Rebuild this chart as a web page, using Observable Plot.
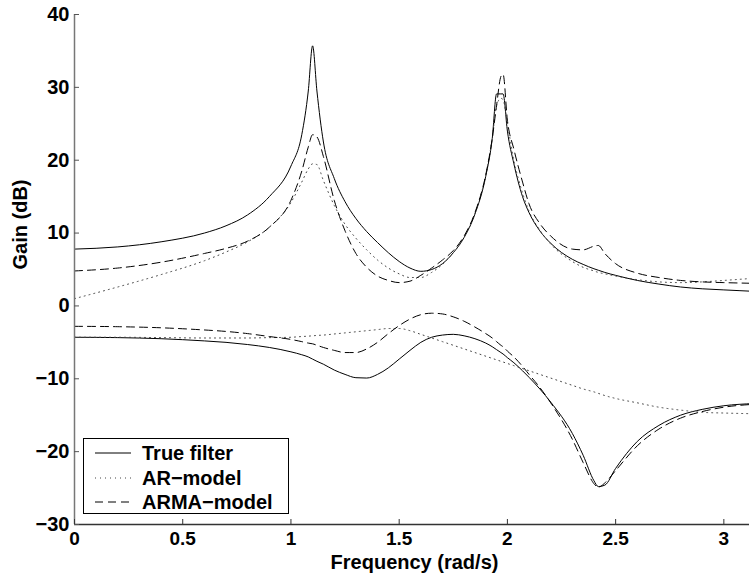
<!DOCTYPE html>
<html><head><meta charset="utf-8">
<script src="https://cdn.jsdelivr.net/npm/d3@7"></script>
<script src="https://cdn.jsdelivr.net/npm/@observablehq/plot@0.6"></script>
<style>
body{margin:0;background:#fff;}
#wrap{position:relative;width:749px;height:576px;overflow:hidden;background:#fff;}
#legend{position:absolute;left:83px;top:438px;width:206px;height:76px;box-sizing:border-box;border:1.5px solid #000;background:#fff;font:bold 20px "Liberation Sans",Arial,sans-serif;color:#000;}
.row{position:absolute;left:0;height:24px;width:200px;}
.row svg{position:absolute;left:10px;top:0;}
.row span{position:absolute;left:58px;top:0;line-height:24px;white-space:nowrap;}
</style></head><body><div id="wrap"></div>
<script>
const freq = [0, 0.2, 0.4, 0.6, 0.7, 0.8, 0.9, 1.0, 1.05, 1.08, 1.1, 1.12, 1.15, 1.2, 1.25, 1.3, 1.35, 1.4, 1.45, 1.5, 1.55, 1.6, 1.65, 1.7, 1.75, 1.8, 1.85, 1.9, 1.93, 1.95, 1.97, 1.98, 2.0, 2.03, 2.07, 2.1, 2.15, 2.2, 2.3, 2.35, 2.4, 2.42, 2.45, 2.5, 2.6, 2.7, 2.8, 2.9, 3.0, 3.14];

const trueUpper = [7.8, 8.1, 8.8, 10.0, 11.0, 12.5, 15.0, 19.2, 23.5, 29.5, 35.7, 29.5, 22.5, 17.5, 14.3, 12.0, 10.2, 8.7, 7.3, 6.1, 5.2, 4.75, 5.0, 5.8, 7.3, 9.4, 12.6, 17.8, 23, 29.1, 29.1, 29.1, 24, 19.5, 15, 12.8, 10.3, 8.6, 6.4, 5.7, 5.1, 4.9, 4.6, 4.2, 3.5, 3.0, 2.6, 2.35, 2.2, 2.0];
const armaUpper = [4.8, 5.2, 6.0, 7.2, 7.9, 8.9, 10.8, 14.5, 18.5, 21.8, 23.5, 23.2, 20.5, 14.5, 10.3, 7.2, 5.3, 4.1, 3.5, 3.2, 3.4, 4.2, 5.2, 6.3, 7.6, 9.6, 12.8, 18.0, 23.0, 27.5, 31.5, 31.8, 25.5, 21.5, 17.0, 14.0, 11.3, 9.6, 7.8, 7.7, 8.2, 8.3, 7.2, 5.8, 4.5, 3.9, 3.5, 3.3, 3.2, 3.1];
const arUpper = [1.0, 2.6, 4.3, 6.2, 7.4, 8.8, 10.8, 14.2, 17.0, 18.8, 19.5, 19.4, 17.2, 13.8, 11.2, 9.3, 7.7, 6.3, 5.2, 4.4, 3.9, 3.9, 4.6, 5.7, 7.3, 9.4, 12.7, 18.0, 23, 27.5, 28.5, 28.3, 25.0, 20.0, 15.5, 13.0, 10.4, 8.5, 6.1, 5.3, 4.8, 4.6, 4.4, 4.1, 3.6, 3.3, 3.2, 3.3, 3.5, 3.8];

const trueLower = [-4.3, -4.35, -4.5, -4.8, -5.0, -5.3, -5.7, -6.3, -6.7, -7.0, -7.3, -7.6, -8.0, -8.8, -9.4, -9.85, -9.9, -9.4, -8.5, -7.3, -6.1, -5.0, -4.3, -4.0, -3.9, -4.1, -4.5, -5.1, -5.6, -6.0, -6.4, -6.6, -7.1, -7.8, -8.9, -9.8, -11.4, -13.2, -17.5, -20.5, -24.0, -24.8, -24.6, -22.3, -18.6, -16.4, -15.0, -14.2, -13.7, -13.4];
const armaLower = [-2.8, -2.85, -3.0, -3.3, -3.5, -3.8, -4.2, -4.6, -4.9, -5.1, -5.2, -5.4, -5.7, -6.1, -6.4, -6.4, -5.9, -5.0, -3.8, -2.7, -1.8, -1.2, -1.0, -1.1, -1.5, -2.1, -2.9, -3.8, -4.4, -4.9, -5.4, -5.6, -6.2, -7.0, -8.3, -9.4, -11.2, -13.3, -18.3, -21.5, -24.4, -24.9, -24.3, -22.6, -19.2, -16.9, -15.4, -14.5, -13.9, -13.5];
const arLower = [-4.3, -4.3, -4.35, -4.4, -4.4, -4.4, -4.35, -4.3, -4.2, -4.15, -4.1, -4.05, -4.0, -3.85, -3.7, -3.55, -3.4, -3.25, -3.1, -3.1, -3.4, -3.9, -4.4, -4.9, -5.4, -5.9, -6.4, -6.9, -7.2, -7.4, -7.6, -7.7, -7.9, -8.2, -8.6, -8.9, -9.4, -9.9, -10.9, -11.4, -11.8, -12.0, -12.3, -12.7, -13.3, -13.9, -14.3, -14.6, -14.7, -14.8];

const seriesNames = ["True filter", "AR-model", "ARMA-model"];
const xTicks = [0, 0.5, 1, 1.5, 2, 2.5, 3];
const yTicks = [-30, -20, -10, 0, 10, 20, 30, 40];

function rows(series, branch, vals) {
  return freq.map((f, i) => ({freq: f, gain: vals[i], series, branch}));
}
const trueRows = [...rows(seriesNames[0], "upper", trueUpper), ...rows(seriesNames[0], "lower", trueLower)];
const arRows = [...rows(seriesNames[1], "upper", arUpper), ...rows(seriesNames[1], "lower", arLower)];
const armaRows = [...rows(seriesNames[2], "upper", armaUpper), ...rows(seriesNames[2], "lower", armaLower)];

const FONT = '"Liberation Sans", Arial, Helvetica, sans-serif';
const styles = {
  "True filter": {stroke: "#000", strokeDasharray: null, strokeWidth: 1},
  "AR-model": {stroke: "#444", strokeDasharray: "1,4", strokeWidth: 1},
  "ARMA-model": {stroke: "#000", strokeDasharray: "8,5", strokeWidth: 1}
};

const chart = Plot.plot({
  width: 749, height: 576,
  marginLeft: 74, marginRight: -5, marginTop: 14, marginBottom: 52,
  style: {fontFamily: FONT, fontSize: "20px", fontWeight: "bold", overflow: "hidden", background: "white", color: "black"},
  x: {domain: [0, Math.PI]},
  y: {domain: [-30, 40]},
  marks: [
    Plot.line(trueRows, {x: "freq", y: "gain", z: "branch", curve: "monotone-x", ...styles["True filter"]}),
    Plot.line(arRows, {x: "freq", y: "gain", z: "branch", curve: "monotone-x", ...styles["AR-model"]}),
    Plot.line(armaRows, {x: "freq", y: "gain", z: "branch", curve: "monotone-x", ...styles["ARMA-model"]}),
    Plot.ruleX([0], {stroke: "#777", strokeWidth: 1.5}),
    Plot.ruleY([-30], {stroke: "#333", strokeWidth: 1.5}),
    Plot.axisX(xTicks, {anchor: "bottom", tickSize: -5, tickPadding: 12, tickFormat: d => String(d), label: null, fontSize: 19, stroke: "#333"}),
    Plot.axisY(yTicks, {anchor: "left", tickSize: -5, tickPadding: 10, label: null, fontSize: 20, stroke: "#555"}),
    Plot.text(["Frequency (rad/s)"], {frameAnchor: "bottom", dy: 44, fontSize: 20, fontWeight: "bold", fill: "black"}),
    Plot.text(["Gain (dB)"], {frameAnchor: "left", dx: -54, rotate: -90, fontSize: 20, fontWeight: "bold", fill: "black"})
  ]
});
const wrap = document.getElementById("wrap");
wrap.appendChild(chart);

// legend
const legend = document.createElement("div");
legend.id = "legend";
const rowTops = [2, 27, 51];
seriesNames.forEach((name, i) => {
  const st = styles[name];
  const r = document.createElement("div");
  r.className = "row";
  r.style.top = rowTops[i] + "px";
  r.innerHTML = `<svg width="40" height="24"><line x1="1" x2="37" y1="12" y2="12" stroke="${st.stroke}" stroke-width="1" ${st.strokeDasharray ? `stroke-dasharray="${st.strokeDasharray}"` : ""}/></svg><span>${name.replace("-", "\u2212")}</span>`;
  legend.appendChild(r);
});
wrap.appendChild(legend);
</script>
</body></html>
